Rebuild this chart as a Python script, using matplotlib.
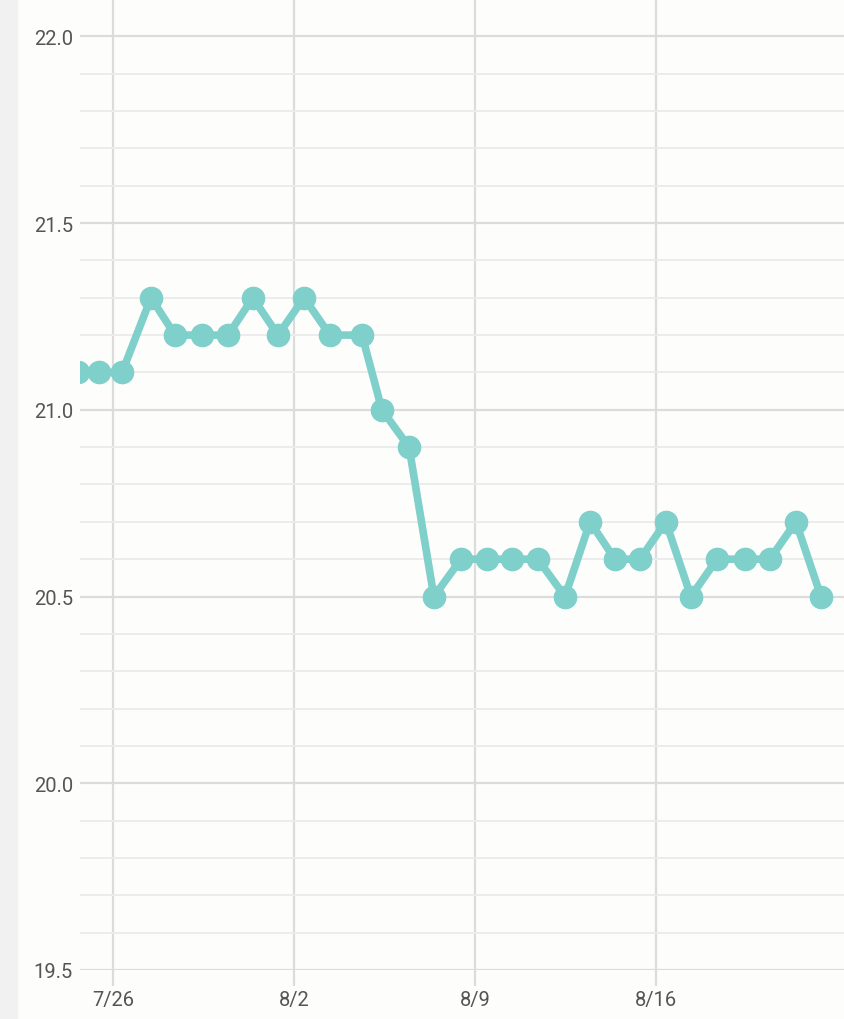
import matplotlib.pyplot as plt
import matplotlib.dates as mdates
import numpy as np
from datetime import datetime

plt.rcParams["font.family"] = ["Roboto", "DejaVu Sans"]

# measurement times (year is not shown on the chart)
timestamps = [
    "07-24 15:36", "07-25 11:02", "07-26 08:24", "07-27 11:17", "07-28 09:36",
    "07-29 10:34", "07-30 10:48", "07-31 09:50", "08-01 09:07", "08-02 09:22",
    "08-03 09:22", "08-04 15:07", "08-05 09:36", "08-06 10:48", "08-07 09:50",
    "08-08 11:02", "08-09 11:02", "08-10 10:19", "08-11 10:19", "08-12 11:31",
    "08-13 10:48", "08-14 09:50", "08-15 09:07", "08-16 09:07", "08-17 08:24",
    "08-18 08:38", "08-19 10:34", "08-20 09:36", "08-21 09:50", "08-22 09:07",
]
values = [
    21.1, 21.1, 21.1, 21.3, 21.2, 21.2, 21.2, 21.3, 21.2, 21.3,
    21.2, 21.2, 21.0, 20.9, 20.5, 20.6, 20.6, 20.6, 20.6, 20.5,
    20.7, 20.6, 20.6, 20.7, 20.5, 20.6, 20.6, 20.6, 20.7, 20.5,
]
tick_dates = ["07-26", "08-02", "08-09", "08-16"]
tick_labels = ["7/26", "8/2", "8/9", "8/16"]

YEAR = 2023
dates = [datetime.strptime(f"{YEAR}-{t}", "%Y-%m-%d %H:%M") for t in timestamps]
ticks = [datetime.strptime(f"{YEAR}-{t}", "%Y-%m-%d") for t in tick_dates]

fig = plt.figure(figsize=(8.44, 10.20), dpi=100, facecolor="#fdfdfb")
# gray strip on the left edge
fig.patches.append(plt.Rectangle((0, 0), 17 / 844, 1, transform=fig.transFigure,
                                 color="#f1f1f1", zorder=0))
ax = fig.add_axes([80 / 844, 49 / 1020, 764 / 844, 971 / 1020])
ax.set_facecolor("#fdfdfb")

t0 = mdates.date2num(ticks[0])
ax.set_xlim(t0 - 1.276, t0 + 28.27)
ax.set_ylim(19.5, 22.1)

ax.set_xticks([mdates.date2num(t) for t in ticks])
ax.set_xticklabels(tick_labels)
ax.set_yticks(np.arange(19.5, 22.01, 0.5))
ax.set_yticks(np.arange(19.6, 22.11, 0.1), minor=True)
ax.yaxis.set_major_formatter(plt.FormatStrFormatter("%.1f"))

ax.grid(True, which="major", axis="both", color="#dcdcdc", linewidth=1.6)
ax.grid(True, which="minor", axis="y", color="#ececec", linewidth=1.4)
ax.set_axisbelow(True)
for s in ax.spines.values():
    s.set_visible(False)

ax.tick_params(axis="x", length=11.5, width=1.6, color="#dcdcdc",
               labelsize=14.5, labelcolor="#555555", pad=3)
ax.tick_params(axis="y", which="both", length=0, labelsize=14.5,
               labelcolor="#555555", pad=5)

ax.plot(dates, values, color="#7fcfca", linewidth=5.5, marker="o",
        markersize=16, solid_joinstyle="round", clip_on=True, zorder=3)

fig.savefig("out.png", dpi=100, facecolor=fig.get_facecolor())
